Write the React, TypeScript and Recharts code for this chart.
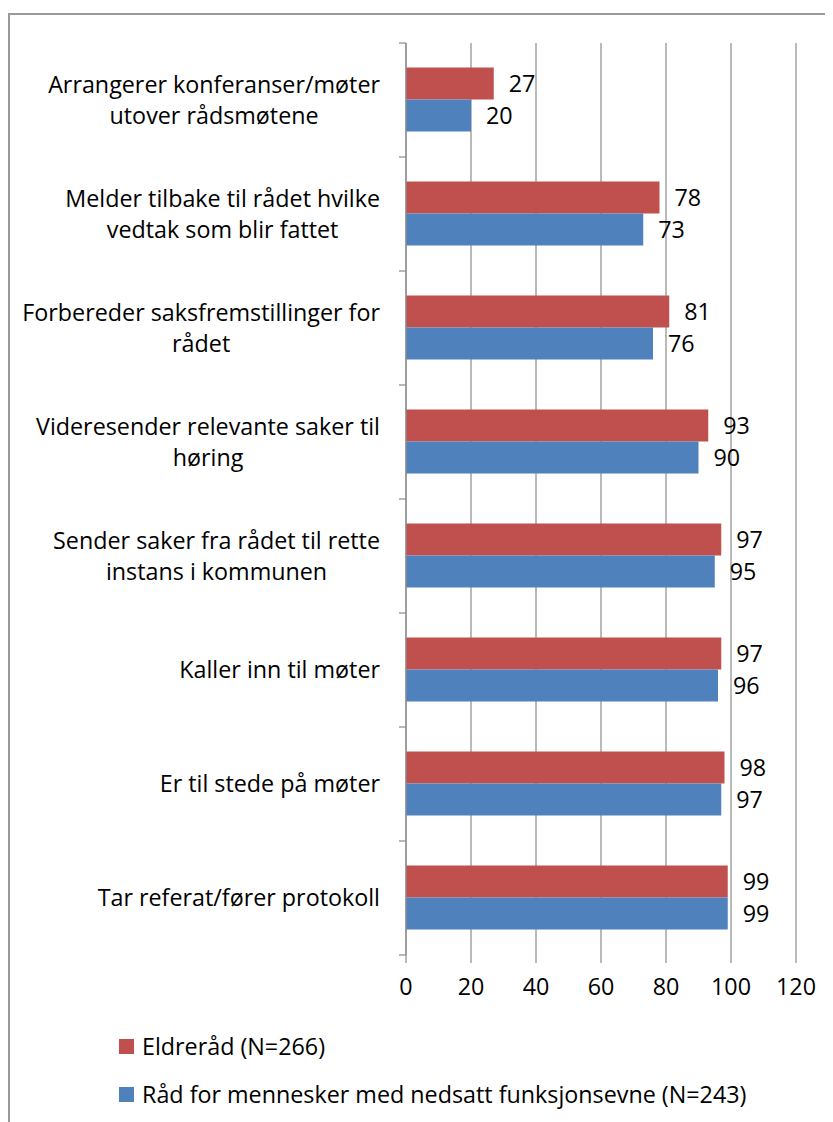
import React from "react";
import {
  BarChart,
  Bar,
  XAxis,
  YAxis,
  CartesianGrid,
  Legend,
  LabelList,
} from "recharts";

const categories: string[] = [
  "Arrangerer konferanser/møter\nutover rådsmøtene",
  "Melder tilbake til rådet hvilke\nvedtak som blir fattet",
  "Forbereder saksfremstillinger for\nrådet",
  "Videresender relevante saker til\nhøring",
  "Sender saker fra rådet til rette\ninstans i kommunen",
  "Kaller inn til møter",
  "Er til stede på møter",
  "Tar referat/fører protokoll",
];

const eldrerad: number[] = [27, 78, 81, 93, 97, 97, 98, 99];
const funksjon: number[] = [20, 73, 76, 90, 95, 96, 97, 99];

const xTicks: number[] = [0, 20, 40, 60, 80, 100, 120];

const seriesNames = {
  eldre: "Eldreråd (N=266)",
  funk: "Råd for mennesker med nedsatt funksjonsevne (N=243)",
};

const RED = "#C0504D";
const BLUE = "#4F81BD";
const GRID = "#8c8c8c";
const FONT = "'Open Sans', sans-serif";
const FS = 23.3;
const LINE_H = 31;

const CHART_W = 823;
const CHART_H = 1107;
const MARGIN = { top: 28, right: 37, bottom: 0, left: 0 };
const LEGEND_H = 100;
const XAXIS_H = 67;
const YAXIS_W = 396;
const TICK_MARGIN = 26;
const PLOT_H = CHART_H - MARGIN.top - MARGIN.bottom - LEGEND_H - XAXIS_H;
const BAND = PLOT_H / categories.length;

const data = categories.map((name, i) => ({
  name,
  eldre: eldrerad[i],
  funk: funksjon[i],
}));

let ctx: CanvasRenderingContext2D | null = null;
function measure(text: string): number {
  if (!ctx) {
    const c = document.createElement("canvas");
    ctx = c.getContext("2d");
  }
  if (!ctx) return text.length * FS * 0.5;
  ctx.font = `${FS}px 'Open Sans'`;
  return ctx.measureText(text).width;
}

const YTick = (props: any) => {
  const { x, y, payload, index, visibleTicksCount } = props;
  const lines: string[] = String(payload.value).split("\n");
  const blockW = Math.max(...lines.map(measure));
  const cx = x - blockW / 2;
  const axisX = x + TICK_MARGIN;
  const isLast = index === (visibleTicksCount ?? categories.length) - 1;
  return (
    <g>
      <line
        x1={axisX - 7}
        x2={axisX}
        y1={y - BAND / 2}
        y2={y - BAND / 2}
        stroke={GRID}
        strokeWidth={1.2}
      />
      {isLast && (
        <line
          x1={axisX - 7}
          x2={axisX}
          y1={y + BAND / 2}
          y2={y + BAND / 2}
          stroke={GRID}
          strokeWidth={1.2}
        />
      )}
      {lines.map((ln, i) => (
        <text
          key={i}
          x={cx}
          y={y + (i - (lines.length - 1) / 2) * LINE_H}
          dy="0.36em"
          textAnchor="middle"
          fontFamily={FONT}
          fontSize={FS}
          fill="#000"
        >
          {ln}
        </text>
      ))}
    </g>
  );
};

const renderLegend = () => {
  const items = [
    { color: RED, label: seriesNames.eldre },
    { color: BLUE, label: seriesNames.funk },
  ];
  return (
    <div style={{ paddingLeft: 109, height: LEGEND_H, fontFamily: FONT }}>
      {items.map((it) => (
        <div
          key={it.label}
          style={{ display: "flex", alignItems: "center", height: 48 }}
        >
          <span
            style={{
              display: "inline-block",
              width: 15,
              height: 15,
              background: it.color,
              marginRight: 8,
            }}
          />
          <span style={{ fontSize: FS, color: "#000" }}>{it.label}</span>
        </div>
      ))}
    </div>
  );
};

export default function App() {
  return (
    <div style={{ paddingTop: 5 }}>
      <div
        style={{
          borderTop: `2px solid #999`,
          borderLeft: `2px solid #999`,
          width: CHART_W,
          height: CHART_H,
          background: "#fff",
        }}
      >
        <BarChart
          width={CHART_W}
          height={CHART_H}
          data={data}
          layout="vertical"
          margin={MARGIN}
          barCategoryGap="21.5%"
          barGap={0}
        >
          <CartesianGrid
            horizontal={false}
            stroke={GRID}
            strokeWidth={1.2}
          />
          <XAxis
            type="number"
            domain={[0, 120]}
            ticks={xTicks}
            axisLine={false}
            tickLine={{ stroke: GRID, strokeWidth: 1.2 }}
            tickSize={8}
            tickMargin={15}
            height={XAXIS_H}
            tick={{ fill: "#000", fontSize: FS, fontFamily: FONT }}
          />
          <YAxis
            type="category"
            dataKey="name"
            width={YAXIS_W}
            axisLine={{ stroke: GRID, strokeWidth: 1.2 }}
            tickLine={false}
            tickSize={0}
            tickMargin={TICK_MARGIN}
            interval={0}
            tick={<YTick />}
          />
          <Legend
            verticalAlign="bottom"
            align="left"
            content={renderLegend}
            wrapperStyle={{ left: 0, width: CHART_W, height: LEGEND_H }}
          />
          <Bar
            dataKey="eldre"
            name={seriesNames.eldre}
            fill={RED}
            isAnimationActive={false}
          >
            <LabelList
              dataKey="eldre"
              position="right"
              offset={15}
              fill="#000"
              fontSize={FS}
              fontFamily={FONT}
            />
          </Bar>
          <Bar
            dataKey="funk"
            name={seriesNames.funk}
            fill={BLUE}
            isAnimationActive={false}
          >
            <LabelList
              dataKey="funk"
              position="right"
              offset={15}
              fill="#000"
              fontSize={FS}
              fontFamily={FONT}
            />
          </Bar>
        </BarChart>
      </div>
    </div>
  );
}
